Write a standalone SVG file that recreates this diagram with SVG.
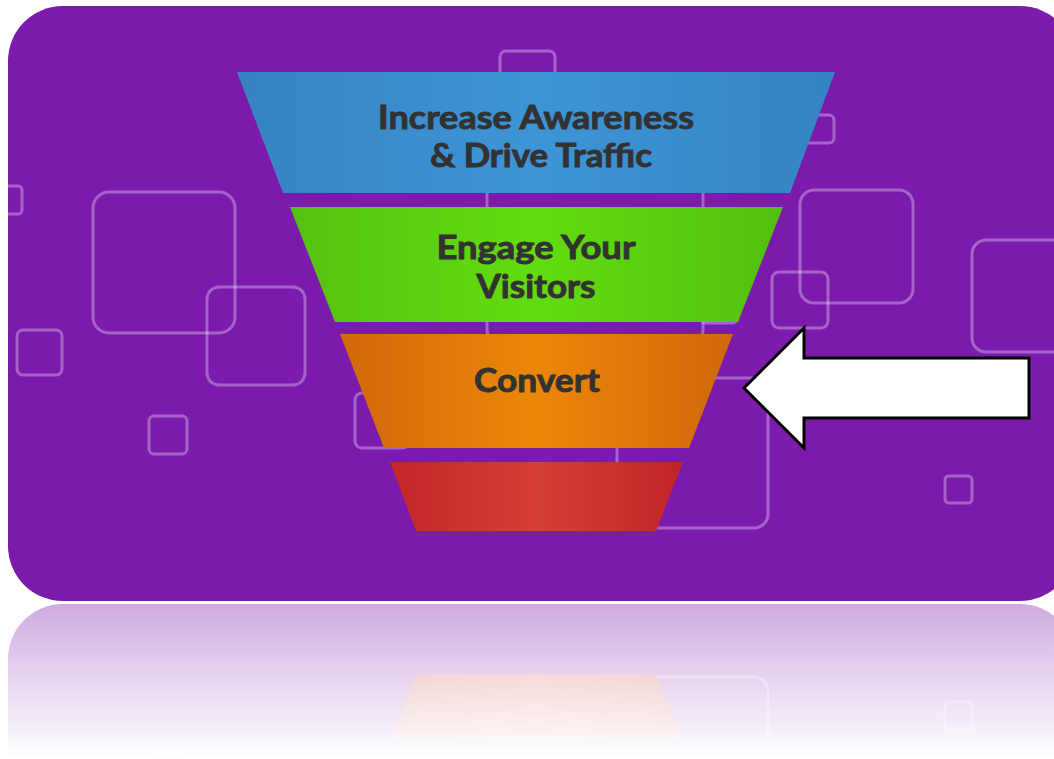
<svg xmlns="http://www.w3.org/2000/svg" xmlns:xlink="http://www.w3.org/1999/xlink" width="1054" height="759" viewBox="0 0 1054 759">
<style>
.sq{fill:none;stroke:#ffffff;stroke-opacity:0.32;stroke-width:3}
.lbl{font-family:Lato,"Open Sans","Liberation Sans",sans-serif;font-weight:700;font-size:33px;fill:#323232;stroke:#323232;stroke-width:0.9;text-anchor:middle}
</style>
<defs>
<linearGradient id="gBlue" x1="0" y1="0" x2="1" y2="0"><stop offset="0" stop-color="#3783c3"/><stop offset="0.5" stop-color="#3d95d6"/><stop offset="1" stop-color="#3583c2"/></linearGradient>
<linearGradient id="gGreen" x1="0" y1="0" x2="1" y2="0"><stop offset="0" stop-color="#54c20f"/><stop offset="0.5" stop-color="#62dc10"/><stop offset="1" stop-color="#52bf0e"/></linearGradient>
<linearGradient id="gOrange" x1="0" y1="0" x2="1" y2="0"><stop offset="0" stop-color="#d0680a"/><stop offset="0.5" stop-color="#eb8708"/><stop offset="1" stop-color="#d0680a"/></linearGradient>
<linearGradient id="gRed" x1="0" y1="0" x2="1" y2="0"><stop offset="0" stop-color="#c32529"/><stop offset="0.5" stop-color="#d43f37"/><stop offset="1" stop-color="#c12428"/></linearGradient>
<clipPath id="panelClip"><rect x="8" y="6" width="1067" height="595" rx="55"/></clipPath>
<linearGradient id="fade" gradientUnits="userSpaceOnUse" x1="0" y1="603" x2="0" y2="759"><stop offset="0" stop-color="#fff" stop-opacity="0.37"/><stop offset="0.5" stop-color="#fff" stop-opacity="0.18"/><stop offset="1" stop-color="#fff" stop-opacity="0"/></linearGradient>
<mask id="reflMask" maskUnits="userSpaceOnUse" x="0" y="603" width="1054" height="156"><rect x="0" y="603" width="1054" height="156" fill="url(#fade)"/></mask>
</defs>
<rect width="1054" height="759" fill="#ffffff"/>
<g id="panel">
<rect x="8" y="6" width="1067" height="595" rx="55" fill="#7b1aad"/>
<g clip-path="url(#panelClip)">
<rect class="sq" x="500" y="51" width="55" height="70" rx="6"/>
<rect class="sq" x="785" y="115" width="49" height="28" rx="5"/>
<rect class="sq" x="487" y="160" width="216" height="180" rx="10"/>
<rect class="sq" x="700" y="250" width="38" height="73" rx="6"/>
<rect class="sq" x="93" y="192" width="142" height="141" rx="16"/>
<rect class="sq" x="207" y="287" width="98" height="98" rx="12"/>
<rect class="sq" x="17" y="330" width="45" height="45" rx="6"/>
<rect class="sq" x="149" y="416" width="38" height="38" rx="5"/>
<rect class="sq" x="-10" y="186" width="32" height="28" rx="4"/>
<rect class="sq" x="800" y="190" width="113" height="113" rx="14"/>
<rect class="sq" x="972" y="240" width="110" height="112" rx="14"/>
<rect class="sq" x="772" y="272" width="56" height="56" rx="7"/>
<rect class="sq" x="617" y="378" width="151" height="150" rx="14"/>
<rect class="sq" x="355" y="393" width="55" height="55" rx="7"/>
<rect class="sq" x="945" y="476" width="27" height="27" rx="4"/>
</g>
<g id="funnel">
<polygon id="layer1" points="237,72 835,72 790,193 283,193" fill="url(#gBlue)"/>
<polygon id="layer2" points="290,207 783,207 738,322 335,322" fill="url(#gGreen)"/>
<polygon id="layer3" points="340,334 733,334 689,448 384,448" fill="url(#gOrange)"/>
<polygon id="layer4" points="390,462 683,462 656,531 416,531" fill="url(#gRed)"/>
</g>
</g>
<g id="reflection" mask="url(#reflMask)">
<use xlink:href="#panel" href="#panel" transform="translate(0,1205) scale(1,-1)"/>
</g>
<g id="labels">
<g id="node-awareness"><text class="lbl" x="536" y="129" textLength="316" lengthAdjust="spacingAndGlyphs">Increase Awareness</text><text class="lbl" x="541" y="167" textLength="222" lengthAdjust="spacingAndGlyphs">&amp; Drive Traffic</text></g>
<g id="node-engage"><text class="lbl" x="536" y="259" textLength="199" lengthAdjust="spacingAndGlyphs">Engage Your</text><text class="lbl" x="536" y="298" textLength="119" lengthAdjust="spacingAndGlyphs">Visitors</text></g>
<g id="node-convert"><text class="lbl" x="537" y="392" textLength="126" lengthAdjust="spacingAndGlyphs">Convert</text></g>
</g>
<g id="connectors">
<polygon points="744,388 804,328 804,358 1029,358 1029,418 804,418 804,448" fill="#ffffff" stroke="#000000" stroke-width="3" stroke-linejoin="miter"/>
</g>
</svg>
